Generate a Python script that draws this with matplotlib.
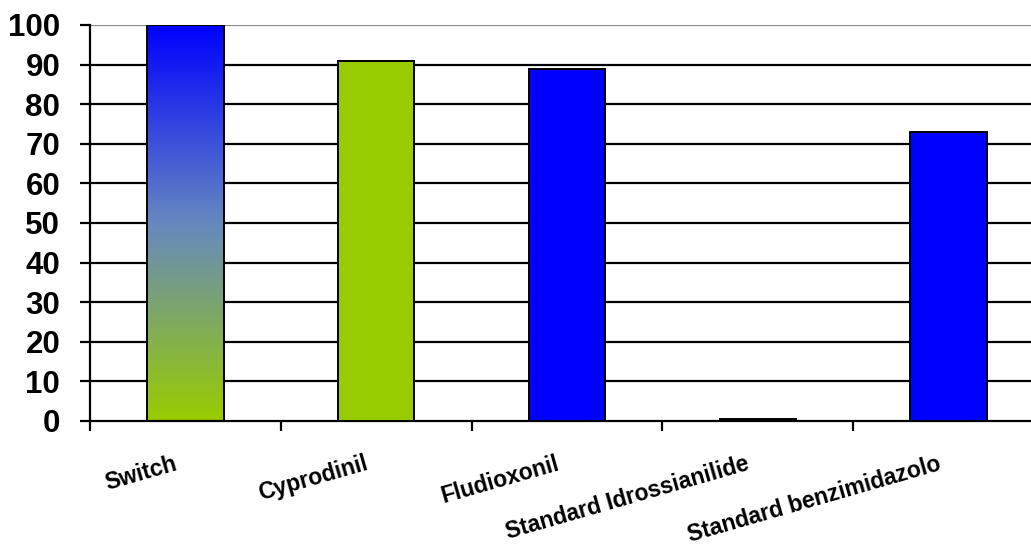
import numpy as np
import matplotlib.pyplot as plt
from matplotlib.colors import LinearSegmentedColormap

plt.rcParams['font.family'] = ['Liberation Sans', 'DejaVu Sans']

# data
categories = ['Switch', 'Cyprodinil', 'Fludioxonil',
              'Standard Idrossianilide', 'Standard benzimidazolo']
values = [100, 91, 89, 0.5, 73]
colors = ['gradient', '#99CC00', '#0000FF', '#000000', '#0000FF']
yticks = list(range(0, 101, 10))

fig = plt.figure(figsize=(10.31, 5.46), dpi=100)
ax = fig.add_axes([90 / 1031, 125 / 546, 954 / 1031, 396 / 546])

# horizontal grid
for y in yticks[1:]:
    ax.axhline(y, color='#888888' if y == 100 else 'black', lw=1.6, zorder=1)

x = np.arange(len(categories))
bars = ax.bar(x, values, width=0.4, edgecolor='black', linewidth=1.4, zorder=3)

grad = LinearSegmentedColormap.from_list('g', ['#99CC00', '#6688C0', '#0000FF'])
for b, c in zip(bars, colors):
    if c == 'gradient':
        b.set_facecolor('none')
        x0, w, h = b.get_x(), b.get_width(), b.get_height()
        img = ax.imshow(np.linspace(0, 1, 256).reshape(-1, 1), cmap=grad,
                        origin='lower', aspect='auto',
                        extent=[x0, x0 + w, 0, h], zorder=2)
        img.set_clip_path(b)
    else:
        b.set_facecolor(c)
ax.set_xlim(-0.5, 4.5)
ax.set_ylim(0, 100)

for s in ['top', 'right']:
    ax.spines[s].set_visible(False)
ax.spines['left'].set_linewidth(1.6)
ax.spines['bottom'].set_linewidth(1.6)
ax.spines['left'].set_zorder(4)

ax.set_yticks(yticks)
ax.set_yticklabels([str(v) for v in yticks], fontsize=22.5, fontweight='bold')
ax.tick_params(axis='y', length=7.5, width=1.6, pad=14)

ax.set_xticks(np.arange(-0.5, 4.5, 1.0))
ax.set_xticklabels([])
ax.tick_params(axis='x', length=7, width=1.6)

for xi, lab in zip(x, categories):
    ax.annotate(lab, xy=(xi, 0), xycoords='data', xytext=(-5, -35),
                textcoords='offset points', ha='right', va='baseline',
                rotation=16, rotation_mode='anchor',
                fontsize=16.5, fontweight='bold', annotation_clip=False)

fig.savefig('out.png', dpi=100)
